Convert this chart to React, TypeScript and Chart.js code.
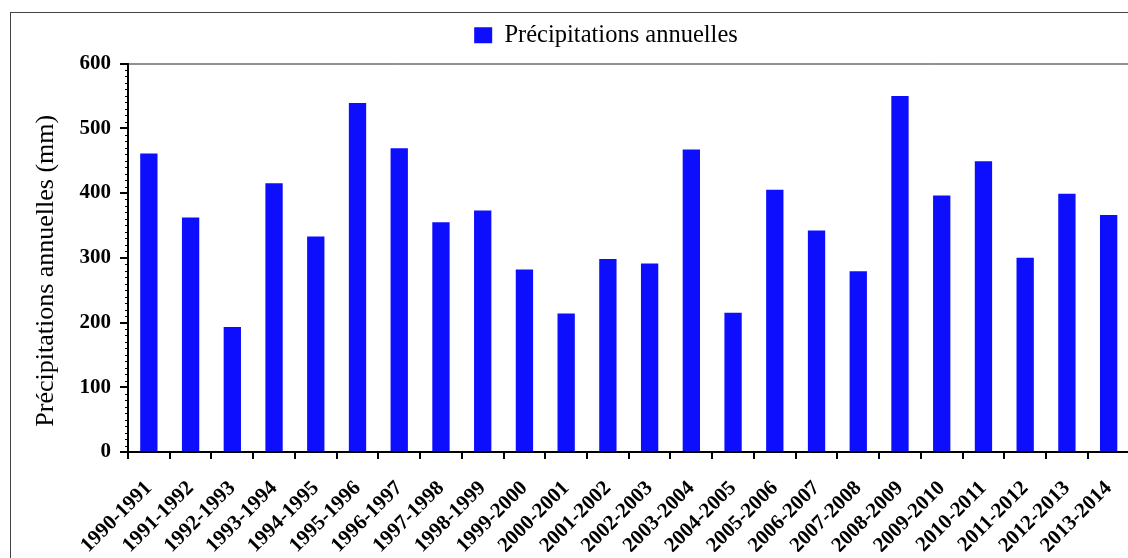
import React, { useEffect, useRef } from "react";
import { Chart, registerables } from "chart.js";

Chart.register(...registerables);

const categories = [
  "1990-1991", "1991-1992", "1992-1993", "1993-1994", "1994-1995", "1995-1996",
  "1996-1997", "1997-1998", "1998-1999", "1999-2000", "2000-2001", "2001-2002",
  "2002-2003", "2003-2004", "2004-2005", "2005-2006", "2006-2007", "2007-2008",
  "2008-2009", "2009-2010", "2010-2011", "2011-2012", "2012-2013", "2013-2014",
];
const precipitations = [
  461, 362, 193, 415, 333, 539, 469, 355, 373, 282, 214, 298,
  291, 467, 215, 405, 342, 279, 550, 396, 449, 300, 399, 366,
];
const seriesLabel = "Précipitations annuelles";
const yTitle = "Précipitations annuelles (mm)    ";
const yMin = 0;
const yMax = 600;
const yStep = 100;
const yMinorStep = 10;

const FONT = "'Liberation Serif', 'Times New Roman', serif";

const decorPlugin = {
  id: "decor",
  afterDraw(chart: any) {
    const { ctx, chartArea } = chart;
    const y = chart.scales.y;
    ctx.save();
    ctx.strokeStyle = "#222";
    ctx.lineWidth = 1;
    ctx.beginPath();
    ctx.moveTo(chartArea.left, chartArea.top + 0.5);
    ctx.lineTo(chartArea.right + 200, chartArea.top + 0.5);
    ctx.stroke();
    ctx.strokeStyle = "#000";
    ctx.lineWidth = 1;
    for (let v = yMin + yMinorStep; v < yMax; v += yMinorStep) {
      if (v % yStep === 0) continue;
      const py = Math.round(y.getPixelForValue(v)) + 0.5;
      ctx.beginPath();
      ctx.moveTo(chartArea.left - 3, py);
      ctx.lineTo(chartArea.left, py);
      ctx.stroke();
    }
    ctx.restore();
  },
};

export default function App() {
  const ref = useRef<HTMLCanvasElement | null>(null);

  useEffect(() => {
    if (!ref.current) return;
    const chart = new Chart(ref.current, {
      type: "bar",
      data: {
        labels: categories,
        datasets: [
          {
            label: seriesLabel,
            data: precipitations,
            backgroundColor: "#0E0EFF",
            borderColor: "#0E0EFF",
            borderWidth: 0,
            barPercentage: 0.415,
            categoryPercentage: 1,
          },
        ],
      },
      options: {
        animation: false,
        responsive: false,
        maintainAspectRatio: false,
        layout: { padding: { left: 0, right: 0, top: 0, bottom: 31 } },
        plugins: {
          tooltip: { enabled: false },
          legend: {
            display: true,
            position: "top",
            align: "center",
            labels: {
              boxWidth: 18,
              boxHeight: 16,
              color: "#000",
              padding: 10,
              font: { family: FONT, size: 24.5 },
            },
          },
        },
        scales: {
          x: {
            offset: true,
            grid: {
              display: true,
              offset: true,
              drawOnChartArea: false,
              drawTicks: true,
              tickLength: 7,
              color: "#000",
              lineWidth: 2,
            },
            border: { display: true, color: "#000", width: 2 },
            ticks: {
              color: "#000",
              minRotation: 45,
              maxRotation: 45,
              autoSkip: false,
              padding: 17,
              font: { family: FONT, size: 21, weight: "bold" },
            },
            afterFit(s: any) {
              s.paddingLeft = 0;
              s.paddingRight = 0;
              s.height = 100;
            },
          },
          xTop: {
            type: "category",
            position: "top",
            display: true,
            grid: { display: false, drawTicks: false },
            border: { display: false },
            ticks: { display: false },
            afterFit(s: any) {
              s.height = 6;
              s.paddingLeft = 0;
              s.paddingRight = 0;
            },
          },
          y: {
            min: yMin,
            max: yMax,
            grid: {
              display: true,
              drawOnChartArea: false,
              drawTicks: true,
              tickLength: 8,
              color: "#000",
              lineWidth: 2,
            },
            border: { display: true, color: "#000", width: 2 },
            ticks: {
              stepSize: yStep,
              color: "#000",
              padding: 9,
              font: { family: FONT, size: 21, weight: "bold" },
            },
            title: {
              display: true,
              text: yTitle,
              color: "#000",
              padding: { top: 20, bottom: 0 },
              font: { family: FONT, size: 26, weight: "normal" },
            },
            afterFit(s: any) {
              s.width = 117;
            },
          },
          yRight: {
            type: "linear",
            position: "right",
            display: true,
            grid: { display: false, drawTicks: false },
            border: { display: false },
            ticks: { display: false },
            afterFit(s: any) {
              s.width = 71.5;
            },
          },
        },
      },
      plugins: [decorPlugin],
    });
    return () => chart.destroy();
  }, []);

  return (
    <div
      style={{
        position: "fixed",
        left: 0,
        top: 0,
        width: 1128,
        height: 558,
        overflow: "hidden",
        background: "#fff",
      }}
    >
      <div
        style={{
          position: "absolute",
          left: 10,
          top: 12,
          width: 1300,
          height: 700,
          border: "1px solid #444",
          boxSizing: "border-box",
        }}
      >
        <canvas
          ref={ref}
          width={1190}
          height={570}
          style={{ display: "block", width: 1190, height: 570 }}
        />
      </div>
    </div>
  );
}
